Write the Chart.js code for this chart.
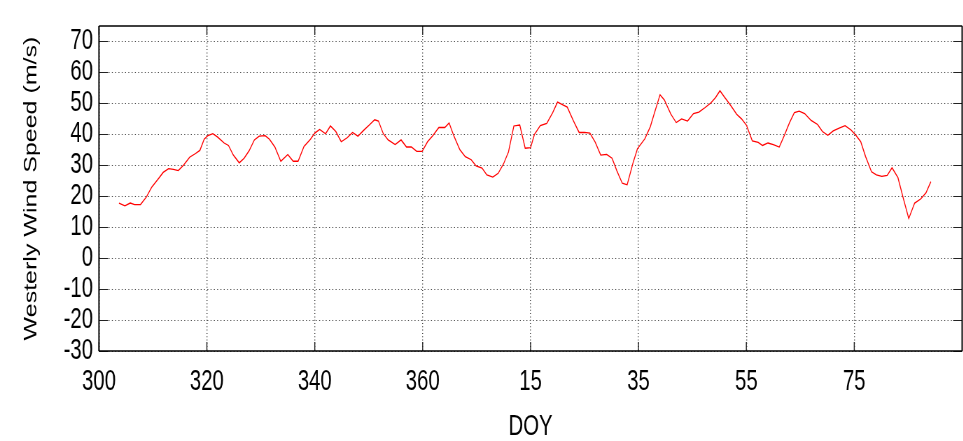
<!DOCTYPE html>
<html>
<head>
<meta charset="utf-8">
<script src="https://cdn.jsdelivr.net/npm/chart.js@4.4.1/dist/chart.umd.min.js"></script>
<style>
  html, body { margin: 0; padding: 0; background: #ffffff; overflow: hidden; width: 963px; height: 441px; }
  #wrap { width: 1376px; height: 441px; position: absolute; left: 0; top: 0;
          transform: scaleX(0.7); transform-origin: 0 0; }
</style>
</head>
<body>
<div id="wrap"><canvas id="c" width="1376" height="441"></canvas></div>
<script>
// Day of year (continuous; values above 365 belong to the next year)
const doy = [
  303.7, 304.8, 305.8, 306.6, 307.7, 308.8, 309.8, 310.9, 311.9, 312.9,
  313.8, 314.7, 315.7, 316.8, 317.9, 318.7, 319.5, 320.2, 321.1, 322.0,
  323.2, 324.0, 324.9, 326.0, 326.9, 327.8, 328.8, 329.7, 330.8, 331.6,
  332.6, 333.7, 335.0, 336.0, 336.9, 338.0, 339.2, 340.0, 340.9, 342.0,
  342.9, 343.9, 344.9, 346.0, 347.0, 348.0, 349.0, 350.1, 351.1, 351.8,
  352.7, 353.6, 354.9, 356.0, 357.0, 357.9, 358.9, 359.9, 360.9, 361.9,
  363.0, 364.1, 364.9, 365.8, 366.9, 367.9, 369.0, 369.9, 371.0, 371.9,
  373.0, 374.0, 375.0, 375.9, 376.9, 378.0, 379.0, 380.0, 380.7, 381.8,
  383.0, 384.1, 385.0, 385.9, 386.8, 387.9, 389.0, 390.0, 391.0, 392.0,
  393.0, 394.1, 395.1, 396.0, 397.0, 397.9, 399.0, 399.8, 401.2, 402.2,
  403.1, 404.0, 404.8, 406.0, 407.0, 408.0, 409.1, 410.2, 411.2, 412.3,
  413.4, 414.3, 415.1, 416.0, 417.1, 418.2, 419.1, 420.0, 421.1, 422.2,
  423.0, 424.0, 425.0, 426.1, 427.1, 428.0, 428.9, 429.8, 430.8, 432.0,
  433.2, 434.1, 435.1, 436.1, 437.2, 438.3, 439.4, 440.3, 441.2, 442.1,
  443.2, 444.1, 445.1, 446.1, 447.0, 448.1, 449.0, 450.1, 451.2, 452.3,
  453.3, 454.2
];
// Westerly wind speed (m/s)
const speed = [
  17.8, 16.9, 17.8, 17.3, 17.3, 19.8, 23.0, 25.4, 27.7, 28.9,
  28.7, 28.3, 30.1, 32.6, 33.8, 34.8, 38.4, 39.6, 40.2, 39.1,
  37.2, 36.4, 33.3, 30.8, 32.3, 34.6, 38.2, 39.4, 39.6, 38.4,
  35.9, 31.3, 33.5, 31.3, 31.3, 36.1, 38.4, 40.4, 41.6, 40.2,
  42.7, 40.9, 37.6, 38.9, 40.6, 39.4, 41.2, 43.0, 44.7, 44.3,
  40.2, 38.2, 36.7, 38.2, 35.9, 35.9, 34.5, 34.5, 37.6, 39.6,
  42.2, 42.2, 43.7, 39.4, 35.0, 32.8, 31.8, 29.8, 29.1, 26.9,
  26.2, 27.4, 30.5, 34.3, 42.7, 43.0, 35.5, 35.7, 39.9, 42.8,
  43.5, 47.0, 50.4, 49.6, 48.8, 44.5, 40.6, 40.6, 40.4, 37.4,
  33.3, 33.5, 32.3, 28.2, 24.2, 23.7, 30.8, 35.3, 38.6, 42.5,
  47.7, 52.8, 51.1, 46.5, 43.8, 45.0, 44.3, 46.7, 47.2, 48.6,
  50.1, 51.9, 54.1, 51.9, 49.3, 46.5, 45.0, 43.0, 37.9, 37.4,
  36.4, 37.2, 36.7, 35.9, 39.9, 43.8, 47.0, 47.5, 46.7, 44.5,
  43.2, 40.9, 39.7, 41.1, 42.0, 42.8, 41.4, 39.7, 37.6, 32.8,
  27.9, 26.9, 26.4, 26.7, 29.2, 26.0, 19.9, 12.8, 17.8, 19.1,
  21.1, 24.7
];
const xTickValues = [300, 320, 340, 360, 380, 400, 420, 440];
const xTickLabels = ['300', '320', '340', '360', '15', '35', '55', '75'];
const yTickValues = [-30, -20, -10, 0, 10, 20, 30, 40, 50, 60, 70];

const points = doy.map((d, i) => ({ x: d, y: speed[i] }));
const FONT = "'Liberation Sans', Arial, sans-serif";
const SX = 0.7; // horizontal squeeze applied to the whole figure (page is 963px wide)

const framePlugin = {
  id: 'frame',
  afterDatasetsDraw(chart) {
    const { ctx, chartArea: a, scales } = chart;
    const tlv = 9, tlh = 9 / SX;
    ctx.save();
    ctx.strokeStyle = '#222';
    // vertical tick marks (x axis, top and bottom)
    ctx.lineWidth = 1.4;
    ctx.beginPath();
    xTickValues.forEach(v => {
      const px = scales.x.getPixelForValue(v);
      ctx.moveTo(px, a.bottom); ctx.lineTo(px, a.bottom - tlv);
      ctx.moveTo(px, a.top); ctx.lineTo(px, a.top + tlv);
    });
    ctx.stroke();
    // horizontal tick marks (y axis, left and right)
    ctx.lineWidth = 1;
    ctx.beginPath();
    yTickValues.forEach(v => {
      const py = Math.round(scales.y.getPixelForValue(v)) + 0.5;
      ctx.moveTo(a.left, py); ctx.lineTo(a.left + tlh, py);
      ctx.moveTo(a.right, py); ctx.lineTo(a.right - tlh, py);
    });
    ctx.stroke();
    // frame
    ctx.strokeStyle = '#000';
    ctx.lineWidth = 1.5;
    ctx.beginPath();
    ctx.moveTo(a.left, a.top); ctx.lineTo(a.right, a.top);
    ctx.moveTo(a.left, a.bottom); ctx.lineTo(a.right, a.bottom);
    ctx.stroke();
    ctx.lineWidth = 2;
    ctx.beginPath();
    ctx.moveTo(a.left, a.top); ctx.lineTo(a.left, a.bottom);
    ctx.moveTo(a.right, a.top); ctx.lineTo(a.right, a.bottom);
    ctx.stroke();
    ctx.restore();
  }
};

new Chart(document.getElementById('c'), {
  type: 'scatter',
  data: {
    datasets: [{
      data: points,
      showLine: true,
      borderColor: '#ff0000',
      borderWidth: 1.3,
      pointRadius: 0,
      fill: false,
      tension: 0
    }]
  },
  options: {
    responsive: false,
    animation: false,
    events: [],
    layout: { padding: { left: 0, right: 1.5, top: 7, bottom: 0 } },
    plugins: { legend: { display: false }, tooltip: { enabled: false } },
    scales: {
      x: {
        type: 'linear',
        min: 300,
        max: 460,
        afterBuildTicks: s => { s.ticks = xTickValues.map(v => ({ value: v })); },
        afterFit: s => { s.height = 90; },
        grid: { color: '#444', lineWidth: 1.4, drawTicks: false },
        border: { display: false, dash: [1, 2.3] },
        ticks: {
          color: '#000',
          padding: 14,
          maxRotation: 0,
          autoSkip: false,
          font: { family: FONT, size: 29 },
          callback: (v) => { const i = xTickValues.indexOf(v); return i >= 0 ? xTickLabels[i] : ''; }
        },
        title: {
          display: true,
          text: 'DOY',
          color: '#000',
          font: { family: FONT, size: 29, lineHeight: 1 },
          padding: { top: 0, bottom: 0 }
        }
      },
      y: {
        type: 'linear',
        min: -30,
        max: 75,
        afterBuildTicks: s => { s.ticks = yTickValues.map(v => ({ value: v })); },
        afterFit: s => { s.width = 141.4; },
        grid: { color: '#444', lineWidth: 1, drawTicks: false },
        border: { display: false, dash: [1.4, 3.3] },
        ticks: {
          color: '#000',
          padding: 8.6,
          autoSkip: false,
          font: { family: FONT, size: 29 }
        },
        title: {
          display: true,
          text: 'Westerly Wind Speed (m/s)',
          color: '#000',
          font: { family: FONT, size: 25, lineHeight: 1 },
          padding: { top: 33, bottom: 0 }
        }
      }
    }
  },
  plugins: [framePlugin]
});
</script>
</body>
</html>
